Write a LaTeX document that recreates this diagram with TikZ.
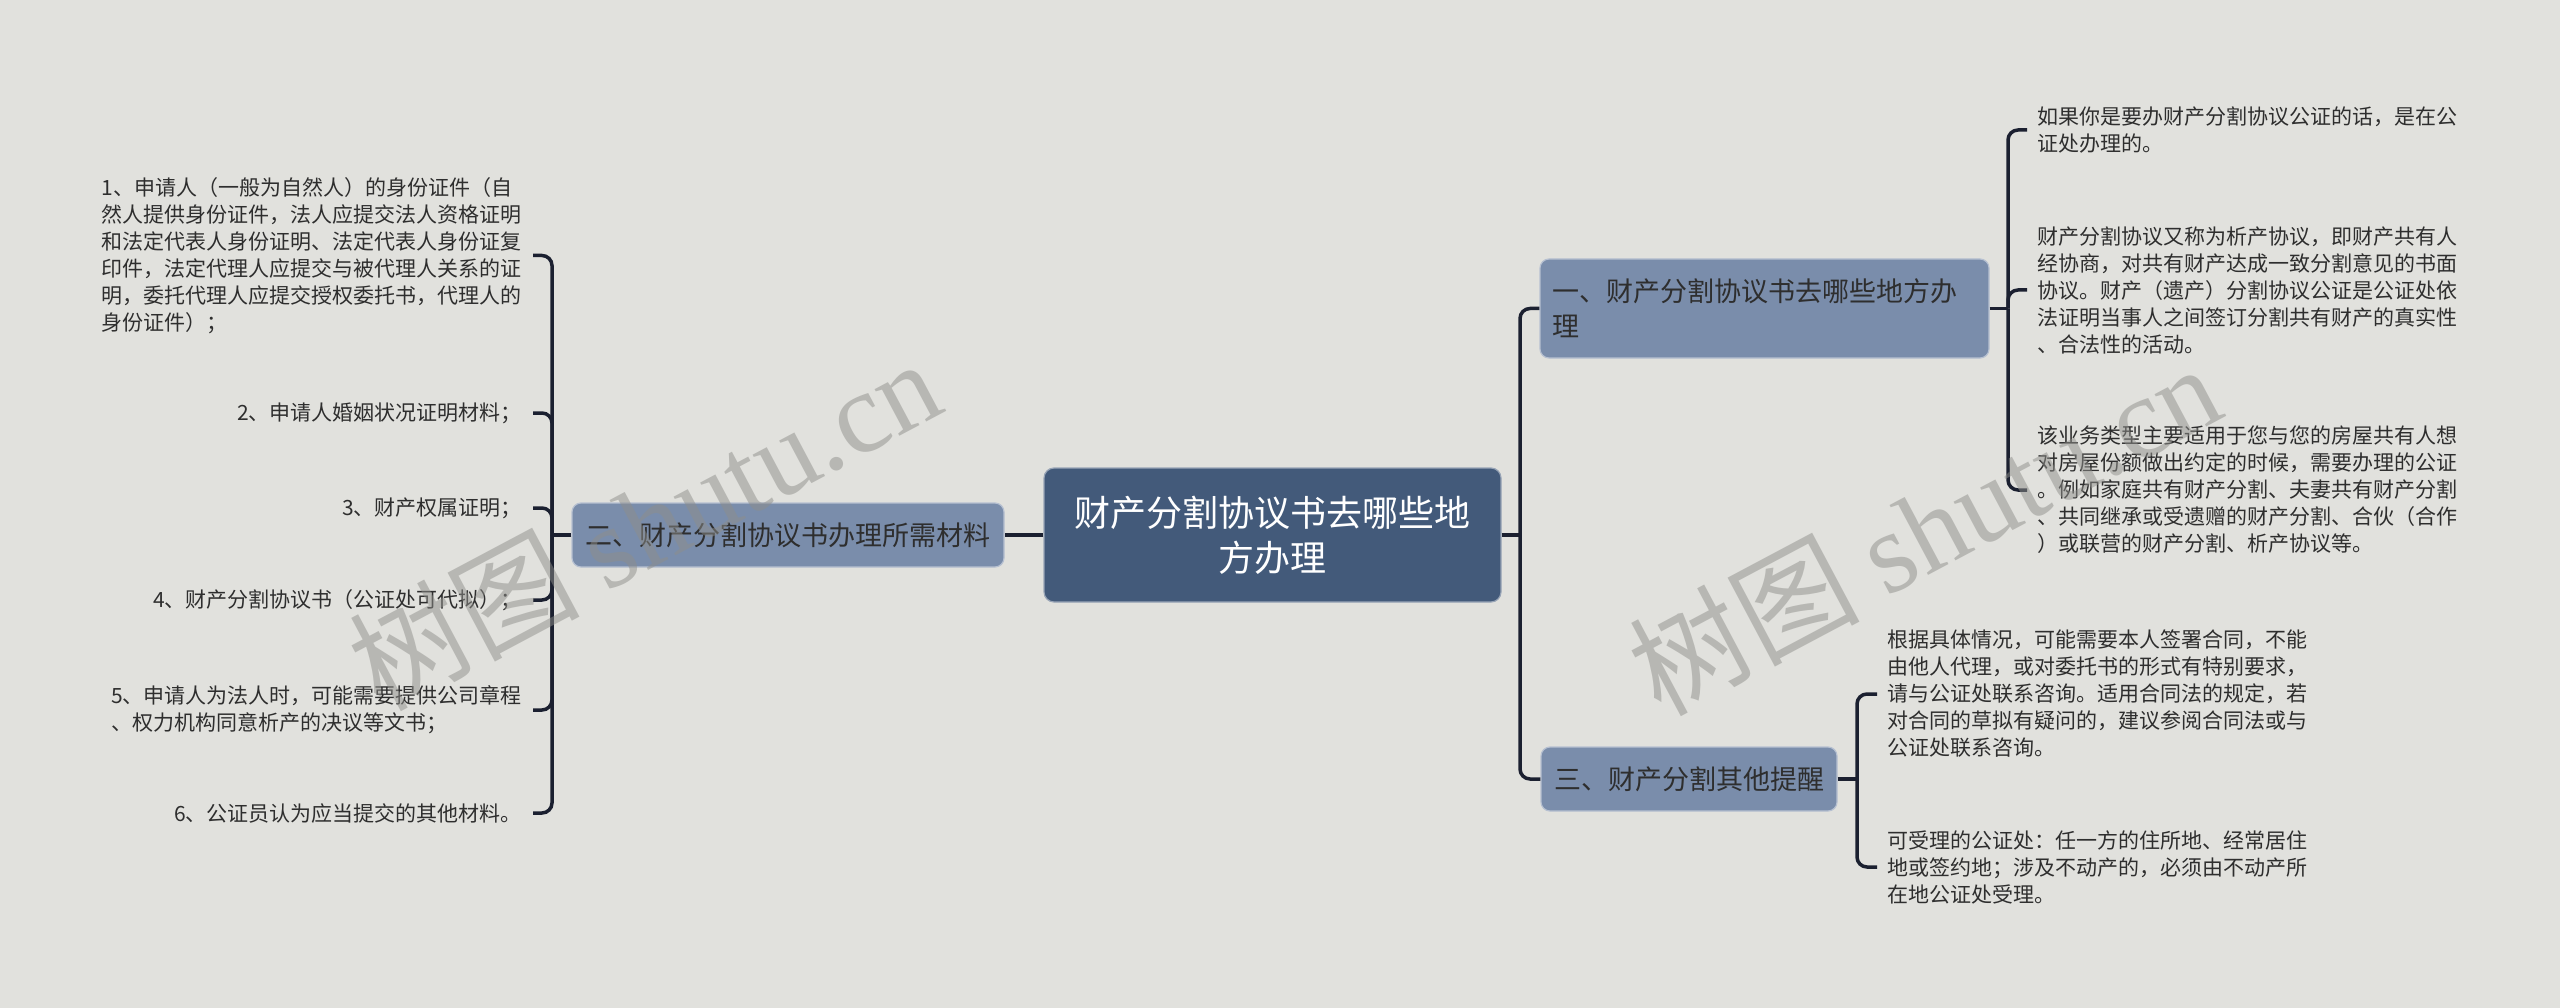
\documentclass[tikz,border=0pt]{standalone}
\usepackage{fontspec}
\setmainfont{Noto Sans CJK SC}
\newfontfamily\wmlatin{Liberation Serif}
\definecolor{bgc}{HTML}{E1E1DD}
\definecolor{rootc}{HTML}{435A7A}
\definecolor{brc}{HTML}{7A8DAB}
\definecolor{linec}{HTML}{1B2030}
\definecolor{txtc}{HTML}{2E2E2E}
\definecolor{wmc}{HTML}{8E8E8A}
\tikzset{
  conn/.style={draw=linec, line width=3.5pt, rounded corners=10pt},
  rootbox/.style={fill=rootc, draw=rootc!55!white, line width=1.2pt, rounded corners=10pt,
    text=white, font=\fontsize{36}{45}\selectfont, align=center,
    minimum width=457pt, minimum height=134pt, inner sep=0pt},
  brbox/.style={fill=brc, draw=brc!55!white, line width=1.2pt, rounded corners=9pt,
    text=txtc, font=\fontsize{27}{35}\selectfont, inner sep=0pt, minimum height=64pt},
  leafL/.style={anchor=east, align=left, inner xsep=11pt, inner ysep=0pt, text=txtc,
    font=\fontsize{21}{27}\selectfont},
  leafR/.style={anchor=west, align=left, inner xsep=10pt, inner ysep=0pt, text=txtc,
    font=\fontsize{21}{27}\selectfont},
  wm/.style={text=wmc, opacity=0.5, font=\fontsize{115}{115}\selectfont, rotate=28, inner sep=0pt},
}
\begin{document}
\begin{tikzpicture}[x=1pt,y=-1pt]
\fill[bgc] (0,0) rectangle (2560,1008);
\useasboundingbox (0,0) rectangle (2560,1008);

% root and branches
\node[rootbox] (root) at (1272.5,535) {财产分割协议书去哪些地\\方办理};
\node[brbox, minimum width=432pt] (lb) at (788,535) {二、财产分割协议书办理所需材料};
\node[brbox, minimum width=449pt, minimum height=99pt, text width=425pt, align=left] (b1) at (1764.5,308.5)
  {一、财产分割协议书去哪些地方办\\理};
\node[brbox, minimum width=296pt] (b3) at (1689,779) {三、财产分割其他提醒};

% left leaves
\node[leafL] (l1) at (533,255.5) {1、申请人（一般为自然人）的身份证件（自\\然人提供身份证件，法人应提交法人资格证明\\和法定代表人身份证明、法定代表人身份证复\\印件，法定代理人应提交与被代理人关系的证\\明，委托代理人应提交授权委托书，代理人的\\身份证件）；};
\node[leafL] (l2) at (533,413) {2、申请人婚姻状况证明材料；};
\node[leafL] (l3) at (533,508) {3、财产权属证明；};
\node[leafL] (l4) at (533,600) {4、财产分割协议书（公证处可代拟）；};
\node[leafL] (l5) at (533,710) {5、申请人为法人时，可能需要提供公司章程\\、权力机构同意析产的决议等文书；};
\node[leafL] (l6) at (533,813) {6、公证员认为应当提交的其他材料。};

% right leaves of branch 1
\node[leafR] (r1) at (2027,130) {如果你是要办财产分割协议公证的话，是在公\\证处办理的。};
\node[leafR] (r2) at (2027,290) {财产分割协议又称为析产协议，即财产共有人\\经协商，对共有财产达成一致分割意见的书面\\协议。财产（遗产）分割协议公证是公证处依\\法证明当事人之间签订分割共有财产的真实性\\、合法性的活动。};
\node[leafR] (r3) at (2027,490) {该业务类型主要适用于您与您的房屋共有人想\\对房屋份额做出约定的时候，需要办理的公证\\。例如家庭共有财产分割、夫妻共有财产分割\\、共同继承或受遗赠的财产分割、合伙（合作\\）或联营的财产分割、析产协议等。};

% leaves of branch 3
\node[leafR] (c1) at (1877,694) {根据具体情况，可能需要本人签署合同，不能\\由他人代理，或对委托书的形式有特别要求，\\请与公证处联系咨询。适用合同法的规定，若\\对合同的草拟有疑问的，建议参阅合同法或与\\公证处联系咨询。};
\node[leafR] (c2) at (1877,867) {可受理的公证处：任一方的住所地、经常居住\\地或签约地；涉及不动产的，必须由不动产所\\在地公证处受理。};

% junctions
\coordinate (jL) at (552,535);
\coordinate (jR) at (1520,535);
\coordinate (j1) at (2008,308.5);
\coordinate (j3) at (1857,779);

% connectors
\draw[conn] (root.west) -- (lb.east);
\draw[conn] (lb.west) -- (jL);
\foreach \n in {l1,l2,l3,l4,l5,l6} \draw[conn] (jL) |- (\n.east);
\draw[conn] (root.east) -- (jR);
\draw[conn] (jR) |- (b1.west);
\draw[conn] (jR) |- (b3.west);
\draw[conn] (b1.east) -- (j1);
\foreach \n in {r1,r2,r3} \draw[conn] (j1) |- (\n.west);
\draw[conn] (b3.east) -- (j3);
\foreach \n in {c1,c2} \draw[conn] (j3) |- (\n.west);

% watermarks
\node[wm] (wm1) at (644,523) {树图 {\wmlatin shutu.cn}};
\node[wm] (wm2) at (1924,528) {树图 {\wmlatin shutu.cn}};
\end{tikzpicture}
\end{document}
